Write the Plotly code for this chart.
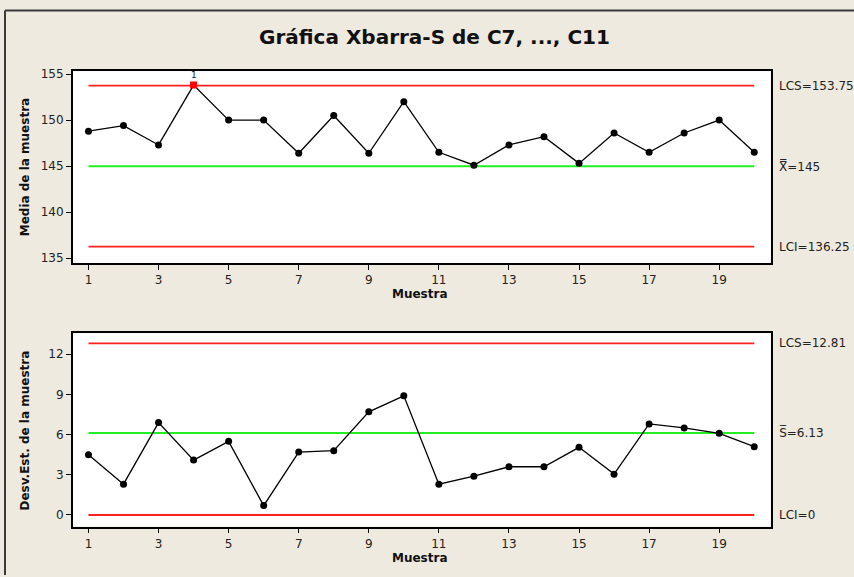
import plotly.graph_objects as go

samples = list(range(1, 21))
xbar = [148.8, 149.4, 147.3, 153.8, 150.0, 150.0, 146.4, 150.5, 146.4, 152.0,
        146.5, 145.1, 147.3, 148.2, 145.3, 148.6, 146.5, 148.6, 150.0, 146.5]
sdev = [4.5, 2.3, 6.9, 4.1, 5.5, 0.7, 4.7, 4.8, 7.7, 8.9,
        2.3, 2.9, 3.6, 3.6, 5.05, 3.05, 6.8, 6.5, 6.1, 5.1]
x_ucl, x_cl, x_lcl = 153.75, 145, 136.25
s_ucl, s_cl, s_lcl = 12.81, 6.13, 0
x_ticks = [1, 3, 5, 7, 9, 11, 13, 15, 17, 19]
top_yticks = [135, 140, 145, 150, 155]
bot_yticks = [0, 3, 6, 9, 12]
out_of_control = [4]

W, H = 854, 577
BG = "#EEEAE0"
FONT = "DejaVu Sans"

def px(x):
    return x / W

def py(y):
    return 1 - y / H

fig = go.Figure()

# control lines
for val, col, w in [(x_ucl, "#FF2020", 1.8), (x_cl, "#22EE22", 2), (x_lcl, "#FF2020", 1.8)]:
    fig.add_trace(go.Scatter(x=[1, 20], y=[val, val], mode="lines",
                             line=dict(color=col, width=w), xaxis="x", yaxis="y",
                             showlegend=False, hoverinfo="skip"))
for val, col, w in [(s_ucl, "#FF2020", 1.8), (s_cl, "#22EE22", 2), (s_lcl, "#FF2020", 1.8)]:
    fig.add_trace(go.Scatter(x=[1, 20], y=[val, val], mode="lines",
                             line=dict(color=col, width=w), xaxis="x2", yaxis="y2",
                             showlegend=False, hoverinfo="skip"))

# data
top_colors = ["#FF0000" if s in out_of_control else "black" for s in samples]
top_symbols = ["square" if s in out_of_control else "circle" for s in samples]
fig.add_trace(go.Scatter(x=samples, y=xbar, mode="lines+markers",
                         line=dict(color="black", width=1.3),
                         marker=dict(color=top_colors, symbol=top_symbols, size=7),
                         xaxis="x", yaxis="y", showlegend=False))
fig.add_trace(go.Scatter(x=samples, y=sdev, mode="lines+markers",
                         line=dict(color="black", width=1.3),
                         marker=dict(color="black", size=7),
                         xaxis="x2", yaxis="y2", showlegend=False))

xdom = [px(72.7), px(770.7)]
axis_common = dict(showline=True, linecolor="black", linewidth=1.5, mirror=True,
                   showgrid=False, zeroline=False, ticks="outside", ticklen=5,
                   tickcolor="black", tickfont=dict(family=FONT, size=12, color="#222"))

fig.update_layout(
    width=W, height=H,
    margin=dict(l=0, r=0, t=0, b=0),
    paper_bgcolor=BG, plot_bgcolor="white",
    font=dict(family=FONT, color="#222"),
    xaxis=dict(domain=xdom, range=[0.55, 20.47], tickvals=x_ticks, anchor="y", **axis_common),
    yaxis=dict(domain=[py(262), py(68)], range=[134.45, 155.3], tickvals=top_yticks,
               anchor="x", **axis_common),
    xaxis2=dict(domain=xdom, range=[0.55, 20.47], tickvals=x_ticks, anchor="y2", **axis_common),
    yaxis2=dict(domain=[py(528), py(332.7)], range=[-0.86, 13.57], tickvals=bot_yticks,
                anchor="x2", **axis_common),
)

def paper_text(text, x, y, size, angle=0, color="#111"):
    return dict(text=text, x=px(x), y=py(y), xref="paper", yref="paper",
                xanchor="center", yanchor="middle", showarrow=False, textangle=angle,
                font=dict(family=FONT, size=size, color=color))

ann = [
    paper_text("<b>Gráfica Xbarra-S de C7, ..., C11</b>", 434, 33, 20),
    paper_text("<b>Media de la muestra</b>", 25, 165, 12, -90),
    paper_text("<b>Desv.Est. de la muestra</b>", 25, 431, 12, -90),
    paper_text("<b>Muestra</b>", 420, 293, 12),
    paper_text("<b>Muestra</b>", 420, 560, 12),
]

lab_x = px(777)
for txt, val in [("LCS=153.75", x_ucl), ("X\u033F=145", x_cl), ("LCI=136.25", x_lcl)]:
    ann.append(dict(text=txt, x=lab_x, y=val, xref="paper", yref="y", xanchor="left",
                    yanchor="middle", showarrow=False,
                    font=dict(family=FONT, size=12, color="#222")))
for txt, val in [("LCS=12.81", s_ucl), ("S\u0305=6.13", s_cl), ("LCI=0", s_lcl)]:
    ann.append(dict(text=txt, x=lab_x, y=val, xref="paper", yref="y2", xanchor="left",
                    yanchor="middle", showarrow=False,
                    font=dict(family=FONT, size=12, color="#222")))

for s in out_of_control:
    ann.append(dict(text="1", x=s, y=xbar[s - 1], xref="x", yref="y", yshift=10,
                    showarrow=False, font=dict(family=FONT, size=9, color="#222")))

fig.update_layout(annotations=ann)

# outer frame (top and left edges)
fig.add_shape(type="line", xref="paper", yref="paper", x0=px(5), x1=1, y0=py(6.5), y1=py(6.5),
              line=dict(color="#3a3a3a", width=2))
fig.add_shape(type="line", xref="paper", yref="paper", x0=px(5), x1=px(5), y0=py(6.5), y1=0,
              line=dict(color="#3a3a3a", width=2))

fig.write_html("out.html", config={"displayModeBar": False},
               post_script="document.body.style.margin='0';document.body.style.overflow='hidden';")
